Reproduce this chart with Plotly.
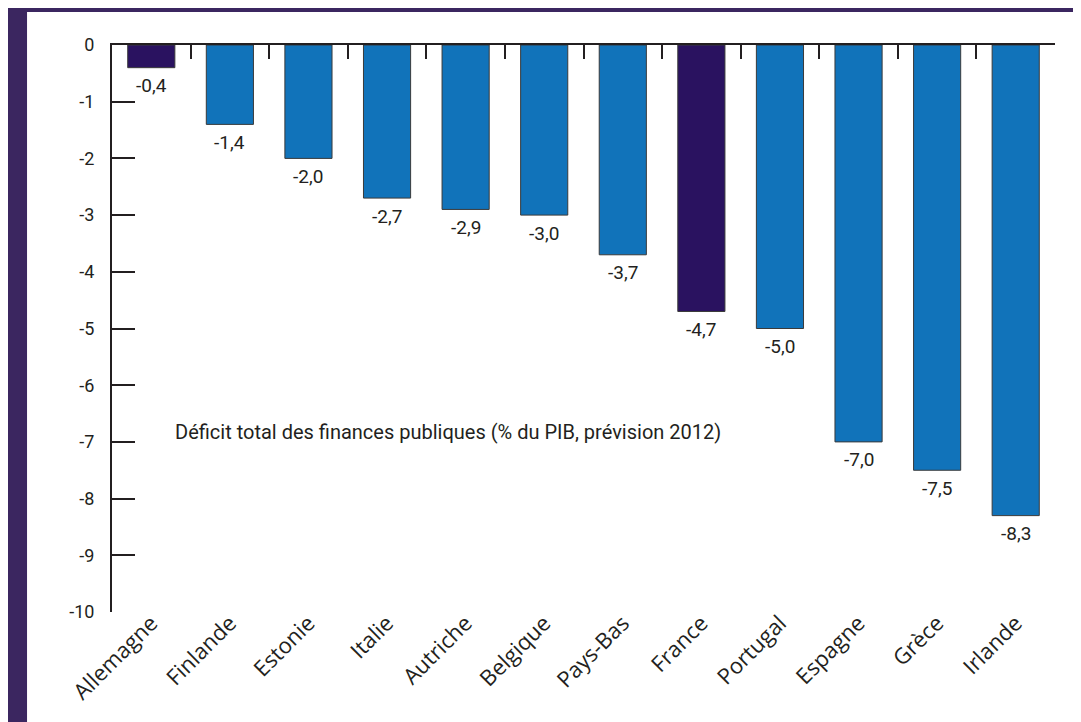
import plotly.graph_objects as go

countries = ["Allemagne", "Finlande", "Estonie", "Italie", "Autriche", "Belgique",
             "Pays-Bas", "France", "Portugal", "Espagne", "Grèce", "Irlande"]
deficits = [-0.4, -1.4, -2.0, -2.7, -2.9, -3.0, -3.7, -4.7, -5.0, -7.0, -7.5, -8.3]
highlight = ["Allemagne", "France"]
y_ticks = list(range(0, -11, -1))
y_ticktext = [str(v) for v in y_ticks]
note = "Déficit total des finances publiques (% du PIB, prévision 2012)"

BLUE = "#1173BA"
DARK = "#2A1260"
FRAME = "#3B2660"
INK = "#231F20"

colors = [DARK if c in highlight else BLUE for c in countries]

fig = go.Figure()
fig.add_trace(go.Bar(
    x=countries, y=deficits, width=0.6,
    marker=dict(color=colors, line=dict(color="#3a3a3a", width=1)),
    hoverinfo="x+y", showlegend=False,
))
# invisible helper trace so the top axis is drawn
fig.add_trace(go.Scatter(x=[0], y=[0], xaxis="x2", yaxis="y", mode="markers",
                         marker=dict(opacity=0), showlegend=False, hoverinfo="skip"))

for c, v in zip(countries, deficits):
    fig.add_annotation(x=c, y=v, text=f"{v:.1f}".replace(".", ","), showarrow=False,
                       yshift=-18, font=dict(family="Roboto", size=19, color=INK))

fig.add_annotation(x=0.27, y=-6.82, xref="x2", yref="y", text=note, showarrow=False,
                   xanchor="left", yanchor="middle",
                   font=dict(family="Roboto", size=20, color=INK))

n = len(countries)
fig.update_layout(
    width=1081, height=722,
    margin=dict(l=104, r=34, t=37, b=118, autoexpand=False),
    paper_bgcolor="white", plot_bgcolor="white",
    xaxis=dict(type="category", range=[-0.5, n - 0.5], tickangle=-45, automargin=False,
               showline=False, ticks="", showgrid=False, zeroline=False,
               ticklabelstandoff=-7,
               tickfont=dict(family="Open Sans", size=22, color=INK)),
    xaxis2=dict(overlaying="x", side="top", anchor="y", range=[-0.5, n - 0.5],
                automargin=False,
                tickvals=[i + 0.5 for i in range(n)], ticks="inside", ticklen=14,
                tickwidth=2, tickcolor=INK, showline=True, linecolor=INK, linewidth=2,
                showticklabels=False, showgrid=False, zeroline=False),
    yaxis=dict(range=[-10, 0], tickvals=y_ticks, ticktext=y_ticktext, ticks="inside",
               ticklen=23, automargin=False,
               tickwidth=2, tickcolor=INK, showline=True, linecolor=INK, linewidth=2,
               showgrid=False, zeroline=False, ticklabelstandoff=12,
               tickfont=dict(family="Roboto", size=18, color=INK)),
    shapes=[
        dict(type="rect", xref="paper", yref="paper", x0=-0.1103, x1=-0.0901,
             y0=-0.21, y1=1.0653, fillcolor=FRAME, line=dict(width=0), layer="below"),
        dict(type="rect", xref="paper", yref="paper", x0=-0.1103, x1=1.04,
             y0=1.0582, y1=1.0653, fillcolor=FRAME, line=dict(width=0), layer="below"),
    ],
)

fig.write_html("out.html")
